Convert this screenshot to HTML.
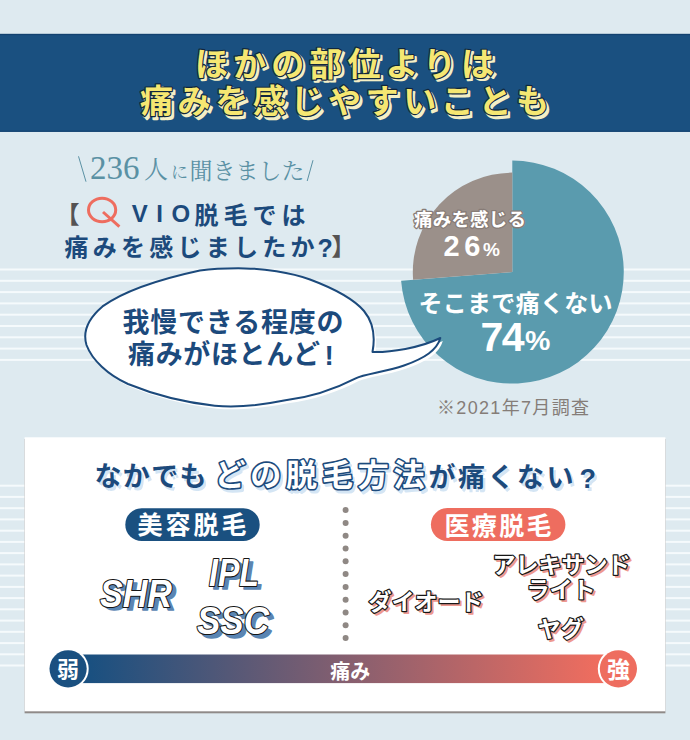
<!DOCTYPE html>
<html lang="ja"><head><meta charset="utf-8"><title>VIO脱毛の痛み</title>
<style>
html,body{margin:0;padding:0;background:#deeaf0}
body{width:690px;height:740px;position:relative;overflow:hidden;font-family:"Liberation Sans","Noto Sans CJK JP",sans-serif}
svg{position:absolute;left:0;top:0;display:block}
svg text{font-family:"Liberation Sans","Noto Sans CJK JP",sans-serif;font-weight:bold}
svg text.serif{font-family:"Liberation Serif","Noto Serif CJK SC",serif;font-weight:normal}
</style></head><body>
<svg width="690" height="740" viewBox="0 0 690 740">
<defs>
<filter id="bl" x="-5%" y="-20%" width="110%" height="140%"><feGaussianBlur stdDeviation="0.7"/></filter>
<linearGradient id="g" x1="0" x2="1" y1="0" y2="0"><stop offset="0.04" stop-color="#1a5080"/><stop offset="0.96" stop-color="#ee6d5f"/></linearGradient>
</defs>
<rect width="690" height="740" fill="#deeaf0"/>
<rect x="0" y="268.5" width="690" height="2" fill="#f5fafc"/>
<rect x="0" y="279.8" width="690" height="2" fill="#f5fafc"/>
<rect x="0" y="291.1" width="690" height="2" fill="#f5fafc"/>
<rect x="0" y="302.4" width="690" height="2" fill="#f5fafc"/>
<rect x="0" y="313.7" width="690" height="2" fill="#f5fafc"/>
<rect x="0" y="325.0" width="690" height="2" fill="#f5fafc"/>
<rect x="0" y="336.3" width="690" height="2" fill="#f5fafc"/>
<rect x="0" y="347.6" width="690" height="2" fill="#f5fafc"/>
<rect x="0" y="358.9" width="690" height="2" fill="#f5fafc"/>
<rect x="0" y="484.7" width="690" height="2" fill="#f5fafc"/>
<rect x="0" y="495.9" width="690" height="2" fill="#f5fafc"/>
<rect x="0" y="507.2" width="690" height="2" fill="#f5fafc"/>
<rect x="0" y="518.4" width="690" height="2" fill="#f5fafc"/>
<rect x="0" y="529.7" width="690" height="2" fill="#f5fafc"/>
<rect x="0" y="540.9" width="690" height="2" fill="#f5fafc"/>
<rect x="0" y="552.1" width="690" height="2" fill="#f5fafc"/>
<rect x="0" y="563.4" width="690" height="2" fill="#f5fafc"/>
<rect x="0" y="574.6" width="690" height="2" fill="#f5fafc"/>
<rect x="0" y="585.9" width="690" height="2" fill="#f5fafc"/>
<rect x="0" y="597.1" width="690" height="2" fill="#f5fafc"/>
<rect x="0" y="608.3" width="690" height="2" fill="#f5fafc"/>
<rect x="0" y="619.6" width="690" height="2" fill="#f5fafc"/>
<rect x="0" y="630.8" width="690" height="2" fill="#f5fafc"/>
<rect x="0" y="642.1" width="690" height="2" fill="#f5fafc"/>
<rect x="0" y="653.3" width="690" height="2" fill="#f5fafc"/>
<rect x="0" y="664.5" width="690" height="2" fill="#f5fafc"/>
<rect x="0" y="33.9" width="690" height="97.9" fill="#1a5080"/>
<rect x="0" y="33.9" width="690" height="1.2" fill="#134270"/>
<rect x="0" y="130.6" width="690" height="1.2" fill="#134270"/>
<text x="195" y="75.5" font-size="33" textLength="299" transform="translate(2.4,2.8)" fill="#f4efc6" stroke="#f4efc6" stroke-width="2.4" stroke-linejoin="round">ほかの部位よりは</text>
<text x="195" y="75.5" font-size="33" textLength="299" fill="#f5e772" stroke="#10263d" stroke-width="2.4" stroke-linejoin="round" paint-order="stroke">ほかの部位よりは</text>
<text x="140" y="112.9" font-size="33" textLength="409" transform="translate(2.4,2.8)" fill="#f4efc6" stroke="#f4efc6" stroke-width="2.4" stroke-linejoin="round">痛みを感じやすいことも</text>
<text x="140" y="112.9" font-size="33" textLength="409" fill="#f5e772" stroke="#10263d" stroke-width="2.4" stroke-linejoin="round" paint-order="stroke">痛みを感じやすいことも</text>
<text class="serif" x="90" y="178.6" font-size="33" fill="#5a91a4">236<tspan x="144" y="178.2" font-size="24">人</tspan><tspan x="171" y="177.5" font-size="17">に</tspan><tspan x="189.5" y="179.2" font-size="23">聞きました</tspan></text>
<path d="M78.5 156.3L86 181.7M307.2 181L313 160.2" stroke="#5a91a4" stroke-width="1" fill="none"/>
<text x="55.5" y="223.1" font-size="24" fill="#555353">【</text>
<ellipse cx="102.1" cy="210" rx="13.6" ry="11.7" fill="none" stroke="#ee6d5f" stroke-width="3"/>
<path d="M103 212L119.4 226.6" stroke="#ee6d5f" stroke-width="3" fill="none"/>
<text x="131.7" y="222.4" font-size="24" textLength="58.5" fill="#1c4a7c">VIO</text>
<text x="194.5" y="223.7" font-size="24" textLength="111" fill="#1c4a7c">脱毛では</text>
<text x="64.5" y="255.9" font-size="24" textLength="250" fill="#1c4a7c">痛みを感じましたか</text>
<text x="317.5" y="256.8" font-size="25" fill="#1c4a7c">?</text>
<text x="331.5" y="255.4" font-size="24" fill="#555353">】</text>
<path d="M512.3 272.1L512.3 160.6A111.5 111.5 0 1 1 401.1 280.7Z" fill="#5a9bae"/>
<path d="M512.3 272.1L512.3 172.6A99.5 99.5 0 0 0 413.1 279.7Z" fill="#9b908a"/>
<text x="414" y="225.5" font-size="18.5" textLength="112" fill="#fff" stroke="#877c77" stroke-width="2.6" stroke-linejoin="round" paint-order="stroke">痛みを感じる</text>
<text x="443.5" y="256.1" font-size="29" textLength="37" fill="#fff">26</text>
<text x="483" y="256.2" font-size="19" fill="#fff">%</text>
<text x="418.5" y="312.1" font-size="24" textLength="194" fill="#fff">そこまで痛くない</text>
<text x="480.5" y="350.6" font-size="41" textLength="44" fill="#fff">74</text>
<text x="525" y="350.2" font-size="28.5" fill="#fff">%</text>
<text x="437" y="413.7" font-size="18" textLength="152" fill="#857d78" style="font-weight:normal">※2021年7月調査</text>
<path d="M245 268.4C262 268.6 290 272 310 279.5C330 287 352 297 364 311C373 322 375.5 336 372.5 352C390 352.5 420 348 440.3 338C437 350 425 358 404 365.5C385 372 365 374 355.7 378.3C335 389 312 397 284 400.5C262 405 235 407.5 214.8 405.7C180 402 150 393 128 384C108 375 92 360 86.5 345C82 330 90 317 102.5 306.4C125 290 160 279 199.9 270.4C215 268.5 230 268.2 245 268.4Z" transform="translate(2.5,3)" fill="#fff"/>
<path d="M245 268.4C262 268.6 290 272 310 279.5C330 287 352 297 364 311C373 322 375.5 336 372.5 352C390 352.5 420 348 440.3 338C437 350 425 358 404 365.5C385 372 365 374 355.7 378.3C335 389 312 397 284 400.5C262 405 235 407.5 214.8 405.7C180 402 150 393 128 384C108 375 92 360 86.5 345C82 330 90 317 102.5 306.4C125 290 160 279 199.9 270.4C215 268.5 230 268.2 245 268.4Z" fill="#fff" stroke="#1c4a7c" stroke-width="2" stroke-linejoin="round"/>
<text x="122.5" y="332.1" font-size="27" textLength="221" fill="#1c4a7c">我慢できる程度の</text>
<text x="128" y="364.2" font-size="27" textLength="192" fill="#1c4a7c">痛みがほとんど</text>
<text x="324.5" y="365.4" font-size="28" fill="#1c4a7c">!</text>
<rect x="24.6" y="439" width="640.8" height="274.3" fill="#8f8a88"/>
<rect x="24.6" y="437.3" width="640.8" height="274" fill="#fff"/>
<text x="94.5" y="486" font-size="27" textLength="112" transform="translate(2.4,3)" filter="url(#bl)" fill="#d4e5f4">なかでも</text>
<text x="94.5" y="486" font-size="27" textLength="112" fill="#1c4a7c">なかでも</text>
<text x="214.5" y="486" font-size="31" textLength="210" transform="translate(2.4,3)" fill="#d4e5f4" stroke="#d4e5f4" stroke-width="3.2" stroke-linejoin="round" filter="url(#bl)">どの脱毛方法</text>
<text x="214.5" y="486" font-size="31" textLength="210" fill="#fff" stroke="#1c4a7c" stroke-width="3.2" stroke-linejoin="round" paint-order="stroke">どの脱毛方法</text>
<text x="428.5" y="486.5" font-size="27" textLength="145" transform="translate(2.4,3)" filter="url(#bl)" fill="#d4e5f4">が痛くない</text>
<text x="428.5" y="486.5" font-size="27" textLength="145" fill="#1c4a7c">が痛くない</text>
<text x="579.5" y="488.2" font-size="27" transform="translate(2.4,3)" filter="url(#bl)" fill="#d4e5f4">?</text>
<text x="579.5" y="488.2" font-size="27" fill="#1c4a7c">?</text>
<rect x="125.3" y="508.3" width="134.4" height="32.8" rx="16.4" fill="#1a5080"/>
<text x="137.5" y="534.2" font-size="25" textLength="109" fill="#fff">美容脱毛</text>
<rect x="430.9" y="508.1" width="134.5" height="32.9" rx="16.4" fill="#ee6d5f"/>
<text x="444.5" y="534.5" font-size="25" textLength="107" fill="#fff">医療脱毛</text>
<text x="100" y="606.7" font-size="38" font-style="italic" textLength="72" lengthAdjust="spacingAndGlyphs" transform="translate(4,3.6)" fill="#5a85b2" stroke="#5a85b2" stroke-width="1.5" stroke-linejoin="round">SHR</text>
<text x="100" y="606.7" font-size="38" font-style="italic" textLength="72" lengthAdjust="spacingAndGlyphs" fill="#fff" stroke="#161616" stroke-width="2.2" stroke-linejoin="round" paint-order="stroke">SHR</text>
<text x="209" y="585.9" font-size="38" font-style="italic" textLength="50" lengthAdjust="spacingAndGlyphs" transform="translate(4,3.6)" fill="#5a85b2" stroke="#5a85b2" stroke-width="1.5" stroke-linejoin="round">IPL</text>
<text x="209" y="585.9" font-size="38" font-style="italic" textLength="50" lengthAdjust="spacingAndGlyphs" fill="#fff" stroke="#161616" stroke-width="2.2" stroke-linejoin="round" paint-order="stroke">IPL</text>
<text x="197" y="634.4" font-size="39" font-style="italic" textLength="72" lengthAdjust="spacingAndGlyphs" transform="translate(4,3.6)" fill="#5a85b2" stroke="#5a85b2" stroke-width="1.5" stroke-linejoin="round">SSC</text>
<text x="197" y="634.4" font-size="39" font-style="italic" textLength="72" lengthAdjust="spacingAndGlyphs" fill="#fff" stroke="#161616" stroke-width="2.2" stroke-linejoin="round" paint-order="stroke">SSC</text>
<circle cx="345.6" cy="510.1" r="3" fill="#8f8884"/>
<circle cx="345.6" cy="522.9" r="3" fill="#8f8884"/>
<circle cx="345.6" cy="535.7" r="3" fill="#8f8884"/>
<circle cx="345.6" cy="548.5" r="3" fill="#8f8884"/>
<circle cx="345.6" cy="561.3" r="3" fill="#8f8884"/>
<circle cx="345.6" cy="574.1" r="3" fill="#8f8884"/>
<circle cx="345.6" cy="586.9" r="3" fill="#8f8884"/>
<circle cx="345.6" cy="599.7" r="3" fill="#8f8884"/>
<circle cx="345.6" cy="612.5" r="3" fill="#8f8884"/>
<circle cx="345.6" cy="625.3" r="3" fill="#8f8884"/>
<circle cx="345.6" cy="638.1" r="3" fill="#8f8884"/>
<text x="426" y="610.3" font-size="23" text-anchor="middle" transform="translate(2.2,2.2)" fill="#ee9990" stroke="#ee9990" stroke-width="2" stroke-linejoin="round">ダイオード</text>
<text x="426" y="610.3" font-size="23" text-anchor="middle" fill="#fff" stroke="#161616" stroke-width="2.4" stroke-linejoin="round" paint-order="stroke">ダイオード</text>
<text x="561.5" y="572.8" font-size="23" text-anchor="middle" transform="translate(2.2,2.2)" fill="#ee9990" stroke="#ee9990" stroke-width="2" stroke-linejoin="round">アレキサンド</text>
<text x="561.5" y="572.8" font-size="23" text-anchor="middle" fill="#fff" stroke="#161616" stroke-width="2.4" stroke-linejoin="round" paint-order="stroke">アレキサンド</text>
<text x="561" y="598.3" font-size="23" text-anchor="middle" transform="translate(2.2,2.2)" fill="#ee9990" stroke="#ee9990" stroke-width="2" stroke-linejoin="round">ライト</text>
<text x="561" y="598.3" font-size="23" text-anchor="middle" fill="#fff" stroke="#161616" stroke-width="2.4" stroke-linejoin="round" paint-order="stroke">ライト</text>
<text x="560.7" y="636.8" font-size="23" text-anchor="middle" transform="translate(2.2,2.2)" fill="#ee9990" stroke="#ee9990" stroke-width="2" stroke-linejoin="round">ヤグ</text>
<text x="560.7" y="636.8" font-size="23" text-anchor="middle" fill="#fff" stroke="#161616" stroke-width="2.4" stroke-linejoin="round" paint-order="stroke">ヤグ</text>
<rect x="68" y="654.5" width="550" height="28.6" fill="url(#g)"/>
<circle cx="68.1" cy="668.8" r="20.6" fill="#fff"/><circle cx="68.1" cy="668.8" r="18.6" fill="#1a5080"/>
<circle cx="618.4" cy="668.8" r="20.6" fill="#fff"/><circle cx="618.4" cy="668.8" r="18.6" fill="#ee6d5f"/>
<text x="68.1" y="677.2" font-size="22" text-anchor="middle" fill="#fff">弱</text>
<text x="618.4" y="677.6" font-size="23" text-anchor="middle" fill="#fff">強</text>
<text x="350.3" y="678.5" font-size="20" text-anchor="middle" fill="#fff">痛み</text>
</svg>
</body></html>
